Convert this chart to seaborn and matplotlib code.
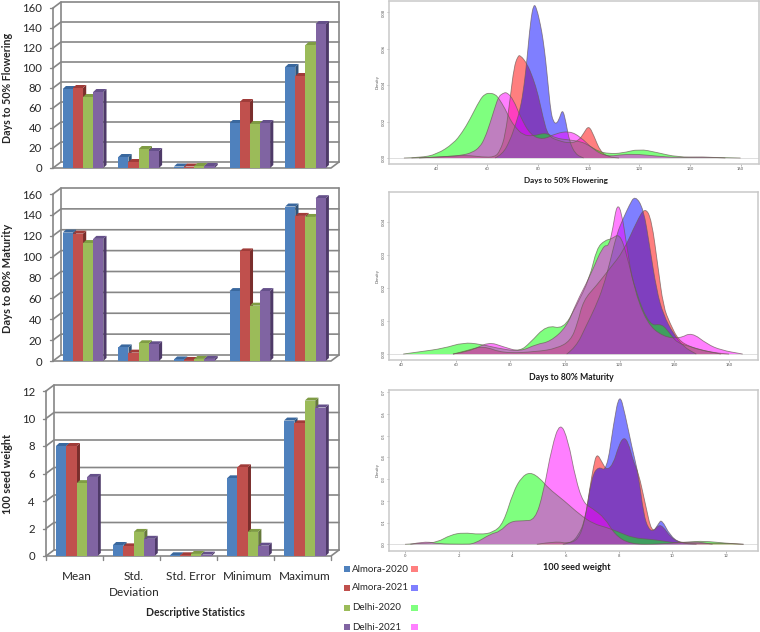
import pandas as pd
import matplotlib
matplotlib.use("Agg")
import matplotlib.pyplot as plt
from matplotlib.patches import Polygon, Rectangle, PathPatch
from matplotlib.path import Path
import seaborn as sns

# ==========================================
# DATA
# ==========================================
SITES = ["Almora-2020", "Almora-2021", "Delhi-2020", "Delhi-2021"]
STATS = ["Mean", "Std.\nDeviation", "Std. Error", "Minimum", "Maximum"]

FLOWER_BARS = [[79, 11, 1.5, 45, 101], [80, 6, 1.5, 66, 92], [71, 19, 2, 44, 123], [76, 17, 2, 45, 144]]
MATURITY_BARS = [[123, 13, 1.5, 67, 148], [122, 8, 1, 105, 139], [113, 17, 2, 53, 138], [117, 16, 2, 67, 156]]
SEED_BARS = [[8.0, 0.8, 0.05, 5.65, 9.85], [8.0, 0.7, 0.05, 6.45, 9.65], [5.3, 1.75, 0.15, 1.75, 11.3], [5.75, 1.25, 0.1, 0.75, 10.8]]

# density curves, (x, y) per site
FLOWER_RED_X = [30, 40, 46, 52, 58, 63, 65, 67, 69, 70.5, 72, 73, 75.6, 78, 80, 82, 84, 88, 92.7, 96, 98, 100, 102, 104.6, 108, 112]
FLOWER_RED_Y = [0, .0005, .001, .0015, .0005, .0005, .004, .012, .033, .05, .056, .0565, .052, .044, .035, .022, .012, .0095, .008, .0095, .0135, .018, .0125, .0035, .0005, 0]
FLOWER_BLUE_X = [63, 66, 69, 71, 73, 74.5, 75.6, 77, 78.3, 79.5, 81, 82, 83, 84, 85, 86, 87.3, 88.5, 89.7, 91, 92.4, 94.8, 98]
FLOWER_BLUE_Y = [0, .002, .01, .018, .027, .04, .054, .075, .085, .082, .073, .065, .054, .04, .026, .02, .0187, .022, .027, .02, .009, .002, 0]
FLOWER_GREEN_X = [27, 33.4, 40, 46.6, 50, 53, 57, 59, 61, 63, 64.4, 67, 69, 71, 74, 78, 83, 87, 92, 97, 100, 104, 108, 113, 120, 127, 135, 145, 160]
FLOWER_GREEN_Y = [0, .0002, .002, .008, .014, .021, .032, .0352, .0357, .035, .033, .027, .021, .017, .0126, .012, .014, .0108, .01, .009, .007, .0035, .0024, .0026, .005, .003, .0005, .0005, 0]
FLOWER_PINK_X = [33, 44, 50, 54, 57, 59, 61, 63, 64.4, 66, 67.7, 70.3, 73, 77, 82, 87, 92.4, 96.7, 102, 107.3, 113.8, 120, 127, 135, 145, 154]
FLOWER_PINK_Y = [0, .0008, .0015, .003, .006, .011, .019, .028, .0337, .0355, .0362, .032, .0227, .0126, .01, .0135, .0148, .0117, .0044, .0007, .002, .002, .001, .0002, .0006, 0]

MATURITY_RED_X = [59, 64, 70, 77.4, 89.6, 97, 102, 104.5, 106.7, 111.6, 116.5, 121.3, 126.2, 129.3, 131.7, 134, 136, 138.4, 141.5, 145.7, 150.6, 156.7, 160]
MATURITY_RED_Y = [0, .001, .0025, .0002, .0007, .0017, .004, .009, .0163, .0208, .026, .031, .04, .0445, .0405, .0264, .0143, .0093, .0042, .0022, .001, .0002, 0]
MATURITY_BLUE_X = [100.6, 104, 108, 111, 114, 116.5, 119, 121.3, 123.5, 125.6, 128.7, 131, 133.5, 136, 139.6, 143.3, 148]
MATURITY_BLUE_Y = [0, .002, .009, .014, .0203, .028, .0365, .041, .045, .048, .044, .0324, .0193, .0118, .0062, .0022, 0]
MATURITY_GREEN_X = [40.8, 47, 55.5, 62.8, 69, 77.4, 83.5, 87, 93.3, 99.4, 104, 109, 111.6, 114.6, 117, 120, 122.6, 126, 131, 135.4, 138.4, 141, 146, 151, 157]
MATURITY_GREEN_Y = [0, .0007, .0017, .0035, .003, .0014, .0009, .0032, .0088, .0075, .0143, .0229, .032, .0344, .0348, .0365, .03, .0183, .0085, .0092, .0062, .0034, .0022, .001, 0]
MATURITY_PINK_X = [59, 65, 72, 77.4, 83.5, 89.6, 94.5, 100.6, 104, 109, 114, 116, 117.5, 119, 120.7, 122.6, 125, 130, 136, 142, 146.3, 152, 157, 165]
MATURITY_PINK_Y = [0, .0007, .0037, .0022, .0007, .003, .0037, .0082, .0153, .0233, .033, .0325, .038, .0455, .043, .0325, .0204, .0092, .0052, .0047, .0066, .003, .0012, 0]

SEED_RED_X = [4.93, 5.67, 6.05, 6.48, 6.73, 6.92, 7.05, 7.17, 7.36, 7.54, 7.79, 7.98, 8.17, 8.35, 8.54, 8.73, 8.98, 9.23, 9.48, 9.66, 9.91, 10.29, 11.28, 12.16, 12.66]
SEED_RED_Y = [0, .014, .003, .02, .11, .266, .36, .42, .38, .34, .37, .45, .495, .47, .38, .33, .19, .05, .09, .08, .035, .005, .005, .004, 0]
SEED_BLUE_X = [5.9, 6.2, 6.48, 6.73, 6.98, 7.23, 7.54, 7.8, 8.02, 8.23, 8.48, 8.73, 8.92, 9.1, 9.3, 9.48, 9.6, 9.91, 10.29, 10.9]
SEED_BLUE_Y = [0, .005, .04, .11, .31, .36, .335, .557, .70, .6, .45, .32, .14, .07, .06, .095, .115, .04, .005, 0]
SEED_GREEN_X = [0, .7, 1.2, 1.7, 2.18, 2.8, 3.3, 3.68, 4.05, 4.36, 4.68, 5.05, 5.36, 5.92, 6.55, 7.05, 7.55, 8.04, 8.54, 9.17, 9.66, 10.16, 10.66, 11.16, 12.0, 12.66]
SEED_GREEN_Y = [0, .005, .009, .043, .054, .045, .054, .097, .243, .31, .333, .304, .258, .204, .135, .094, .077, .054, .029, .023, .015, .005, .011, .015, .005, 0]
SEED_PINK_X = [.2, .75, 1.2, 2.2, 2.6, 3.2, 3.55, 3.93, 4.43, 4.86, 5.17, 5.49, 5.8, 6.1, 6.38, 6.67, 7.0, 7.48, 7.85, 8.42, 9.5, 10.8, 11.5]
SEED_PINK_Y = [0, .014, .002, 0, .002, .048, .058, .106, .108, .112, .235, .45, .565, .48, .3, .19, .166, .12, .043, 0, 0, .014, 0]

FLOWER_CURVES = [(FLOWER_RED_X, FLOWER_RED_Y), (FLOWER_BLUE_X, FLOWER_BLUE_Y), (FLOWER_GREEN_X, FLOWER_GREEN_Y), (FLOWER_PINK_X, FLOWER_PINK_Y)]
MATURITY_CURVES = [(MATURITY_RED_X, MATURITY_RED_Y), (MATURITY_BLUE_X, MATURITY_BLUE_Y), (MATURITY_GREEN_X, MATURITY_GREEN_Y), (MATURITY_PINK_X, MATURITY_PINK_Y)]
SEED_CURVES = [(SEED_RED_X, SEED_RED_Y), (SEED_BLUE_X, SEED_BLUE_Y), (SEED_GREEN_X, SEED_GREEN_Y), (SEED_PINK_X, SEED_PINK_Y)]

# ==========================================
# STYLE
# ==========================================
BAR_COLORS = ["#4F81BD", "#C0504D", "#9BBB59", "#8064A2"]
SIDE_COLORS = ["#2F5378", "#7A2E2C", "#65793A", "#4E3A68"]
TOP_COLORS = ["#3A689E", "#A03C39", "#7F9C44", "#65508A"]
DENSITY_COLORS = ["#FF0000", "#0000FF", "#00FF00", "#FF00FF"]
SWATCH_COLORS = ["#FF7F7F", "#7F7FFF", "#7FFF7F", "#FF7FFF"]
WALL = "#868686"
TEXT = "#262626"
W, H = 760, 632

sns.set_theme(style="white")
plt.rcParams["font.family"] = ["Lato", "DejaVu Sans"]

fig = plt.figure(figsize=(W / 100, H / 100), dpi=100, facecolor="white")


def px_axes(left, top, right, bottom):
    return fig.add_axes([left / W, 1 - bottom / H, (right - left) / W, (bottom - top) / H])


def px_text(x, y, s, **kw):
    kw.setdefault("ha", "center")
    kw.setdefault("va", "center")
    kw.setdefault("color", TEXT)
    fig.text(x / W, 1 - y / H, s, **kw)


def bar_panel(rows, box, ymax, step, depth, ylabel, ylabel_y, label_size, show_x=False):
    ax = px_axes(*box)
    w_px, h_px = box[2] - box[0], box[3] - box[1]
    df = pd.DataFrame(
        [(STATS[i], SITES[s], rows[s][i]) for s in range(4) for i in range(5)],
        columns=["stat", "site", "value"],
    )
    sns.barplot(data=df, x="stat", y="value", hue="site", hue_order=SITES, order=STATS,
                palette=BAR_COLORS, saturation=1, width=0.73, gap=0, legend=False, ax=ax,
                zorder=3, linewidth=0, edgecolor="none")
    ax.set_xlim(-0.54, 4.46)
    ax.set_ylim(0, ymax)
    sns.despine(ax=ax, left=True, bottom=True)
    ax.set_xlabel("")
    ax.set_ylabel("")
    ax.patch.set_alpha(0)

    # fake 3D side and top faces, taken from the bars seaborn drew
    bars = [p for p in ax.patches if p.get_width() > 0]
    n = len(bars) // 4
    dx = 3.2 / w_px * 5
    dy = 3.0 / h_px * ymax
    order = sorted(range(len(bars)), key=lambda i: bars[i].get_x())
    for z, i in enumerate(order):
        p = bars[i]
        x0, x1, h = p.get_x(), p.get_x() + p.get_width(), p.get_height()
        s = i // n
        p.set_zorder(3 + z * 0.01)
        ax.add_patch(Polygon([(x1, 0), (x1 + dx, dy), (x1 + dx, h + dy), (x1, h)], closed=True,
                             fc=SIDE_COLORS[s], ec="none", zorder=3 + z * 0.01 - 0.005, clip_on=False))
        ax.add_patch(Polygon([(x0, h), (x1, h), (x1 + dx, h + dy), (x0 + dx, h + dy)], closed=True,
                             fc=TOP_COLORS[s], ec="none", zorder=3 + z * 0.01 - 0.004, clip_on=False))

    # chart wall and gridlines in axes fractions
    wx = depth[0] / w_px
    wy = depth[1] / h_px
    t = ax.transAxes
    ticks = list(range(0, ymax + 1, step))
    for v in ticks:
        f = v / ymax
        ax.plot([0, wx, 1 + wx], [f, f + wy, f + wy], color=WALL, lw=1.2, transform=t, clip_on=False, zorder=1)
        ax.plot([-0.012, 0], [f, f], color=WALL, lw=1.0, transform=t, clip_on=False, zorder=1)
    ax.plot([0, 0], [0, 1], color=WALL, lw=1.2, transform=t, clip_on=False, zorder=1)
    ax.plot([wx, wx], [wy, 1 + wy], color=WALL, lw=1.2, transform=t, clip_on=False, zorder=1)
    ax.plot([1 + wx, 1 + wx], [wy, 1 + wy], color=WALL, lw=1.2, transform=t, clip_on=False, zorder=1)
    ax.plot([0, 1, 1 + wx], [0, 0, wy], color=WALL, lw=1.2, transform=t, clip_on=False, zorder=1)

    ax.set_yticks(ticks)
    ax.set_yticklabels([str(v) for v in ticks], fontsize=8.2, color=TEXT)
    ax.tick_params(axis="y", length=0, pad=8)
    if show_x:
        ax.tick_params(axis="x", length=0, pad=11, labelsize=8.5, labelcolor=TEXT)
        for lab in ax.get_xticklabels():
            lab.set_linespacing(1.5)
        for k in range(6):
            ax.plot([k / 5, k / 5], [0, -0.025], color=WALL, lw=1.0, transform=t, clip_on=False)
    else:
        ax.set_xticks([])
    px_text(8, ylabel_y, ylabel, rotation=90, fontsize=label_size, fontweight="bold")
    return ax


def curve_path(xs, ys):
    # the read points act as bezier control points, so the outline comes out rounded
    pts = list(zip(xs, ys))
    verts = [pts[0]]
    codes = [Path.MOVETO]
    for a, b in zip(pts[1:-1], pts[2:]):
        verts += [a, ((a[0] + b[0]) / 2, (a[1] + b[1]) / 2)]
        codes += [Path.CURVE3, Path.CURVE3]
    verts.append(pts[-1])
    codes.append(Path.LINETO)
    return Path(verts, codes)


def density_panel(curves, box, xlim, ylim, xticks, yticks, yfmt, label, label_xy, label_size):
    ax = px_axes(*box)
    for (xs, ys), c in zip(curves, DENSITY_COLORS):
        ax.add_patch(PathPatch(curve_path(xs, ys), fc=c, ec="none", alpha=0.5, zorder=2))
        ax.add_patch(PathPatch(curve_path(xs, ys), fc="none", ec="#6a5a55", lw=0.6, alpha=0.7, zorder=3))
    ax.axhline(0, color="#d9d9d9", lw=0.6, zorder=1)
    ax.set_xlim(*xlim)
    ax.set_ylim(*ylim)
    ax.set_xticks(xticks)
    ax.set_yticks(yticks)
    ax.set_yticklabels([yfmt.format(v) for v in yticks], rotation=90, va="center", fontsize=3, color="#555555")
    ax.set_xticklabels([str(v) for v in xticks], fontsize=3, color="#555555")
    ax.tick_params(length=1.2, width=0.4, color="#888888", pad=1.2, bottom=True, left=True)
    for sp in ax.spines.values():
        sp.set_color("#c9c9c9")
        sp.set_linewidth(1.1)
    ax.set_xlabel("")
    ax.set_ylabel("Density", fontsize=3, color="#555555", labelpad=1.5)
    px_text(label_xy[0], label_xy[1], label, fontsize=label_size, fontweight="bold", color="#1a1a1a")
    return ax


# ==========================================
# LEFT: 3D LOOKING BARS
# ==========================================
bar_panel(FLOWER_BARS, (53, 8, 331, 168), 160, 20, (8, 6), "Days to 50% Flowering", 88, 7.7)
bar_panel(MATURITY_BARS, (53, 194, 331, 361), 160, 20, (8, 6), "Days to 80% Maturity", 278, 8)
bar_panel(SEED_BARS, (46, 391, 331, 556), 12, 2, (8, 6), "100 seed weight", 474, 7.8, show_x=True)
px_text(195, 613, "Descriptive Statistics", fontsize=7.6, fontweight="bold")

# ==========================================
# RIGHT: DENSITY OVERLAYS
# ==========================================
density_panel(FLOWER_CURVES, (389, 1, 759, 164), (21.1, 167.3), (-.0033, .0863),
              [40, 60, 80, 100, 120, 140, 160], [0, .02, .04, .06, .08], "{:.2f}",
              "Days to 50% Flowering", (566, 180), 5.9)
density_panel(MATURITY_CURVES, (389, 192, 758, 360), (35.6, 170.6), (-.0018, .049),
              [40, 60, 80, 100, 120, 140, 160], [0, .01, .02, .03, .04], "{:.2f}",
              "Days to 80% Maturity", (571, 377), 6.2)
density_panel(SEED_CURVES, (389, 390, 758, 551), (-.6, 13.2), (-.031, .711),
              [0, 2, 4, 6, 8, 10, 12], [0, .1, .2, .3, .4, .5, .6, .7], "{:.1f}",
              "100 seed weight", (577, 567), 6.6)

# ==========================================
# SHARED LEGEND
# ==========================================
for i, y in enumerate([569, 588, 608, 627]):
    fig.patches.append(Rectangle((344 / W, 1 - (y + 2.5) / H), 5.5 / W, 5.5 / H, transform=fig.transFigure,
                                 fc=BAR_COLORS[i], ec="none", figure=fig))
    fig.patches.append(Rectangle((411 / W, 1 - (y + 3) / H), 7 / W, 6 / H, transform=fig.transFigure,
                                 fc=SWATCH_COLORS[i], ec="none", figure=fig))
    px_text(352, y, SITES[i], ha="left", fontsize=7)

fig.savefig("out.png", dpi=100)
